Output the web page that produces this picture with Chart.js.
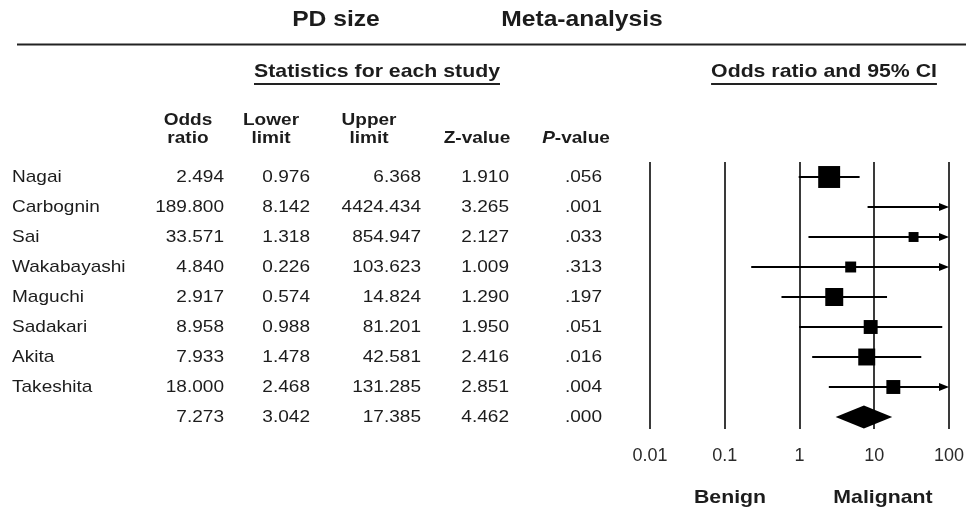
<!DOCTYPE html>
<html>
<head>
<meta charset="utf-8">
<script src="https://cdn.jsdelivr.net/npm/chart.js@4.4.1/dist/chart.umd.min.js"></script>
<style>
  html, body { margin: 0; padding: 0; background: #fff; }
  #wrap { width: 966px; height: 512px; }
</style>
</head>
<body>
<div id="wrap"><canvas id="forest" width="966" height="512"></canvas></div>
<script>
// Study-level results (last row is the pooled estimate)
const studies    = ['Nagai', 'Carbognin', 'Sai', 'Wakabayashi', 'Maguchi', 'Sadakari', 'Akita', 'Takeshita', ''];
const oddsRatio  = [2.494, 189.800, 33.571, 4.840, 2.917, 8.958, 7.933, 18.000, 7.273];
const lowerLimit = [0.976, 8.142, 1.318, 0.226, 0.574, 0.988, 1.478, 2.468, 3.042];
const upperLimit = [6.368, 4424.434, 854.947, 103.623, 14.824, 81.201, 42.581, 131.285, 17.385];
const zValue     = [1.910, 3.265, 2.127, 1.009, 1.290, 1.950, 2.416, 2.851, 4.462];
const pValue     = [0.056, 0.001, 0.033, 0.313, 0.197, 0.051, 0.016, 0.004, 0.000];
// relative weight of each study (%), sets the box size
const weights    = [27.3, 3.6, 5.6, 6.8, 18.3, 11.0, 16.3, 11.0];
const tickValues = [0.01, 0.1, 1, 10, 100];
const tickLabels = ['0.01', '0.1', '1', '10', '100'];
const columnHeads = [['Odds', 'ratio'], ['Lower', 'limit'], ['Upper', 'limit'], ['Z-value'], ['P-value']];

const POOLED = studies.length - 1;
const FAMILY = '"Liberation Sans", Arial, Helvetica, sans-serif';
const INK = '#1c1c1c';
const WIDE = 1.12; // horizontal stretch of the lettering
const font = (size, weight = 'normal', style = 'normal') => `${style} ${weight} ${size}px ${FAMILY}`;
const boxSide = w => 4.2 * Math.sqrt(w);

const fmt3 = v => v.toFixed(3);
const fmtP = v => v.toFixed(3).replace(/^0/, '');

// whiskers, arrows and pooled diamond, drawn from the scales
const intervalPlugin = {
  id: 'intervals',
  beforeDatasetsDraw(chart) {
    const { ctx, scales: { x, y } } = chart;
    const xmin = x.min, xmax = x.max;
    ctx.save();
    ctx.strokeStyle = '#000';
    ctx.fillStyle = '#000';
    ctx.lineWidth = 2;
    for (let i = 0; i < POOLED; i++) {
      const py = y.getPixelForValue(i);
      const x1 = x.getPixelForValue(Math.max(lowerLimit[i], xmin));
      const x2 = x.getPixelForValue(Math.min(upperLimit[i], xmax));
      const clipped = upperLimit[i] > xmax;
      ctx.beginPath();
      ctx.moveTo(x1, py);
      ctx.lineTo(clipped ? x2 - 6 : x2, py);
      ctx.stroke();
      if (clipped) {
        ctx.beginPath();
        ctx.moveTo(x2, py);
        ctx.lineTo(x2 - 10, py - 4);
        ctx.lineTo(x2 - 10, py + 4);
        ctx.closePath();
        ctx.fill();
      }
    }
    const dy = y.getPixelForValue(POOLED);
    const dl = x.getPixelForValue(lowerLimit[POOLED]);
    const dc = x.getPixelForValue(oddsRatio[POOLED]);
    const dr = x.getPixelForValue(upperLimit[POOLED]);
    ctx.beginPath();
    ctx.moveTo(dl, dy);
    ctx.lineTo(dc, dy - 11.5);
    ctx.lineTo(dr, dy);
    ctx.lineTo(dc, dy + 11.5);
    ctx.closePath();
    ctx.fill();
    ctx.restore();
  }
};

// stretched text helper
function put(ctx, text, x, y, align, f) {
  ctx.save();
  ctx.font = f;
  ctx.textAlign = align;
  ctx.translate(x, y);
  ctx.scale(WIDE, 1);
  ctx.fillText(text, 0, 0);
  ctx.restore();
}
function width(ctx, text, f) {
  ctx.save();
  ctx.font = f;
  const w = ctx.measureText(text).width * WIDE;
  ctx.restore();
  return w;
}

// titles, table of statistics and direction labels
const tablePlugin = {
  id: 'statsTable',
  afterDraw(chart) {
    const { ctx, scales: { y } } = chart;
    ctx.save();
    ctx.fillStyle = INK;
    ctx.textBaseline = 'middle';

    // title line
    put(ctx, 'PD size', 336, 20, 'center', font(22, 'bold'));
    put(ctx, 'Meta-analysis', 582, 20, 'center', font(22, 'bold'));
    ctx.strokeStyle = '#222';
    ctx.lineWidth = 2;
    ctx.beginPath();
    ctx.moveTo(17, 44.5);
    ctx.lineTo(966, 44.5);
    ctx.stroke();

    // underlined section heads
    const section = (text, cx) => {
      const f = font(19, 'bold');
      put(ctx, text, cx, 72, 'center', f);
      const w = width(ctx, text, f);
      ctx.beginPath();
      ctx.moveTo(cx - w / 2, 84);
      ctx.lineTo(cx + w / 2, 84);
      ctx.stroke();
    };
    section('Statistics for each study', 377);
    section('Odds ratio and 95% CI', 824);

    // column heads
    const headCenters = [188, 271, 369, 477, 576];
    const hb = font(17, 'bold'), hi = font(17, 'bold', 'italic');
    columnHeads.forEach((lines, c) => {
      const cx = headCenters[c];
      if (lines.length === 2) {
        put(ctx, lines[0], cx, 120, 'center', hb);
        put(ctx, lines[1], cx, 138, 'center', hb);
      } else if (lines[0].startsWith('P-')) {
        const lead = 'P', rest = lines[0].slice(1);
        const wl = width(ctx, lead, hi), wr = width(ctx, rest, hb);
        const left = cx - (wl + wr) / 2;
        put(ctx, lead, left, 138, 'left', hi);
        put(ctx, rest, left + wl, 138, 'left', hb);
      } else {
        put(ctx, lines[0], cx, 138, 'center', hb);
      }
    });

    // rows
    const rightEdges = [224, 310, 421, 509, 602];
    const rf = font(17);
    studies.forEach((name, i) => {
      const py = y.getPixelForValue(i);
      put(ctx, name, 12, py, 'left', rf);
      const cells = [fmt3(oddsRatio[i]), fmt3(lowerLimit[i]), fmt3(upperLimit[i]), fmt3(zValue[i]), fmtP(pValue[i])];
      cells.forEach((t, c) => put(ctx, t, rightEdges[c], py, 'right', rf));
    });

    // direction labels under the axis
    put(ctx, 'Benign', 730, 498, 'center', font(19, 'bold'));
    put(ctx, 'Malignant', 883, 498, 'center', font(19, 'bold'));
    ctx.restore();
  }
};

const radii = studies.slice(0, POOLED).map((s, i) => boxSide(weights[i]) / (2 * Math.SQRT1_2));

new Chart(document.getElementById('forest'), {
  type: 'scatter',
  data: {
    datasets: [{
      data: studies.slice(0, POOLED).map((s, i) => ({ x: oddsRatio[i], y: i })),
      pointStyle: 'rect',
      pointRadius: radii,
      pointHoverRadius: radii,
      backgroundColor: '#000',
      borderWidth: 0,
      clip: 0
    }]
  },
  options: {
    responsive: false,
    animation: false,
    devicePixelRatio: 1,
    events: [],
    layout: { padding: { left: 650, right: 17, top: 162, bottom: 43 } },
    plugins: { legend: { display: false }, tooltip: { enabled: false } },
    scales: {
      x: {
        type: 'logarithmic',
        min: 0.01,
        max: 100,
        position: 'bottom',
        afterBuildTicks: s => { s.ticks = tickValues.map(v => ({ value: v, major: true })); },
        afterFit: s => { s.height = 40; s.paddingLeft = 0; s.paddingRight = 0; },
        grid: { color: '#3a3a3a', lineWidth: 2, drawTicks: false },
        border: { display: false },
        ticks: {
          autoSkip: false,
          maxRotation: 0,
          padding: 16,
          color: '#2a2a2a',
          font: { family: FAMILY, size: 18 },
          callback: v => tickLabels[tickValues.indexOf(v)]
        }
      },
      y: {
        type: 'linear',
        min: -0.5,
        max: 8.4,
        reverse: true,
        display: false
      }
    }
  },
  plugins: [intervalPlugin, tablePlugin]
});
</script>
</body>
</html>
